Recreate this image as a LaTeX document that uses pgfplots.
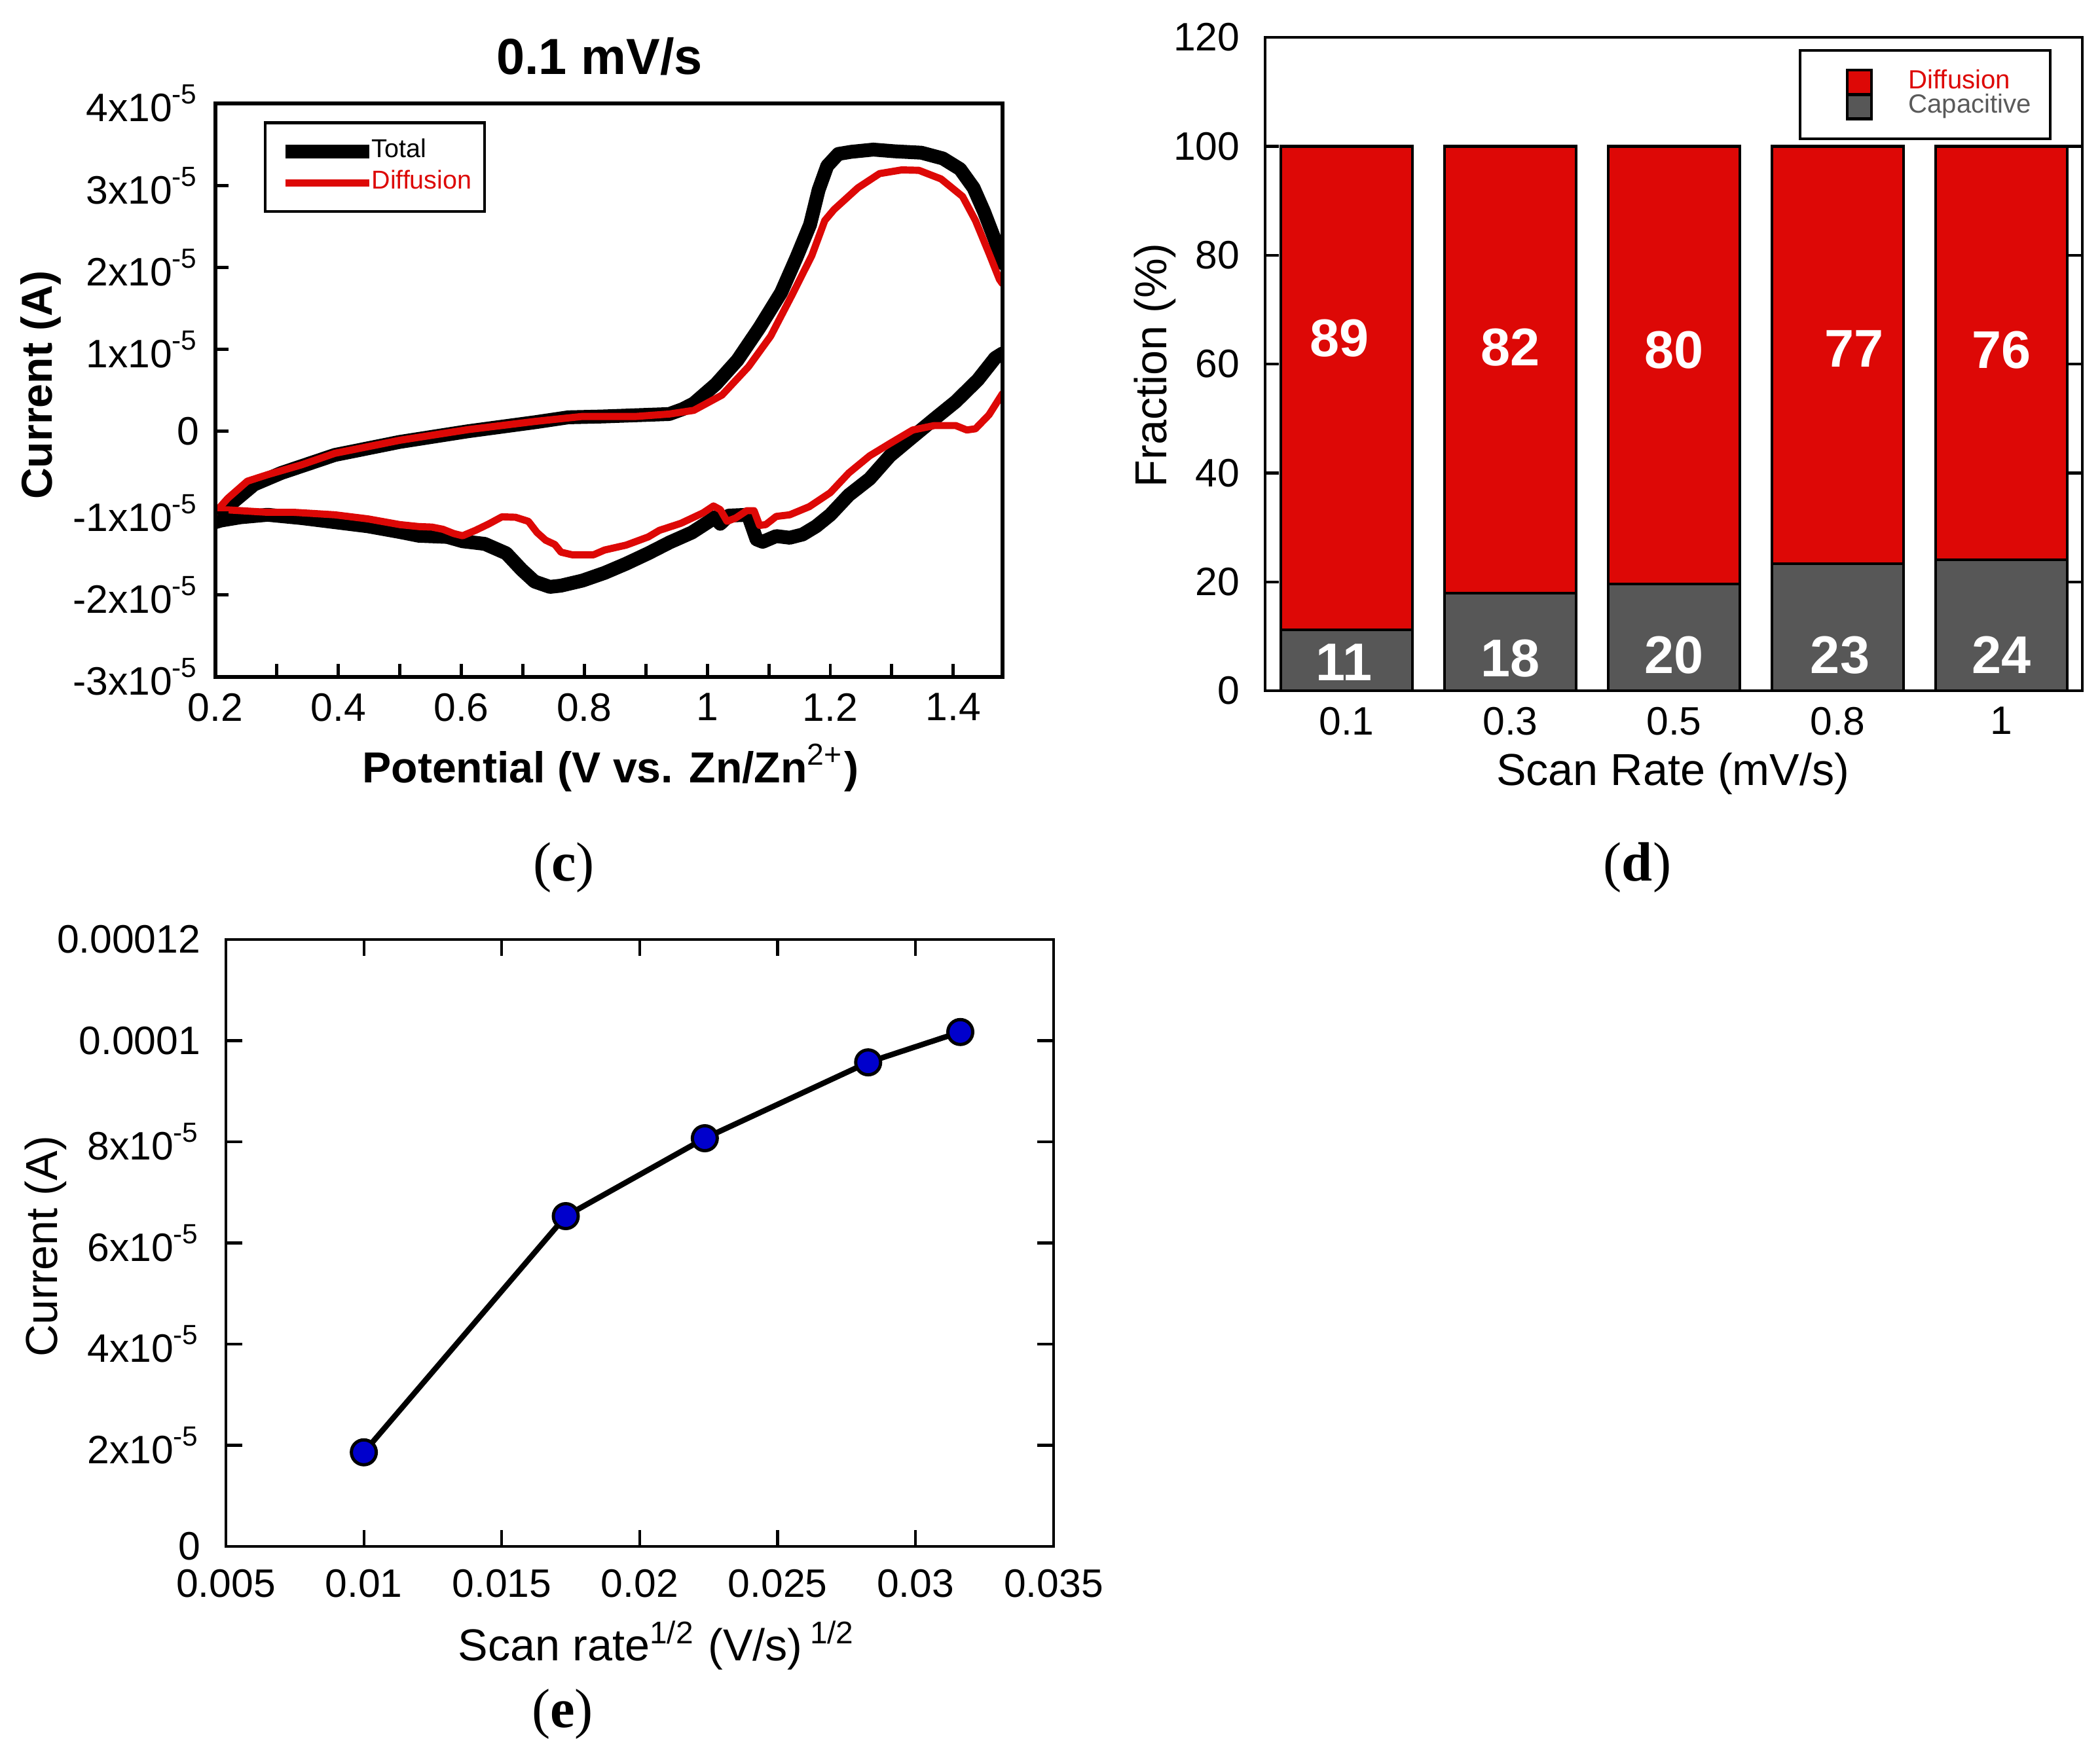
\documentclass[border=0pt]{standalone}
\usepackage{fontspec}
\setmainfont{Liberation Sans}
\newfontfamily\panelfont{Liberation Serif}
\usepackage{pgfplots}
\pgfplotsset{compat=1.18}
\definecolor{cvred}{HTML}{DD0806}
\definecolor{bargray}{HTML}{575757}
\definecolor{txtgray}{HTML}{5A5A5A}
\definecolor{dotblue}{HTML}{0000CC}
\newcommand{\tickfont}{\fontsize{8.6}{10}\selectfont}
\newcommand{\labfont}{\fontsize{9.7}{11}\selectfont}
\tikzset{barlab/.style={font=\bfseries\fontsize{11.5}{13}\selectfont, text=white}}
\pgfplotsset{
  swatch legend/.style={legend image code/.code={\path[draw=none,fill=none] (0cm,-0.01cm) rectangle (0.215cm,0.01cm); \draw[##1] (0.215cm,-0.0925cm) rectangle (0.4cm,0.0925cm);}},
  cvline legend/.style={legend image code/.code={\draw[##1,line cap=butt] (0cm,0cm) -- (0.64cm,0cm);}},
}
\begin{document}
\begin{tikzpicture}
\useasboundingbox (0,0) rectangle (16,13.346);

% ---------------- (c) ----------------
\begin{axis}[
  at={(1.641cm,8.187cm)}, anchor=south west, scale only axis,
  width=5.997cm, height=4.370cm,
  xmin=0.2, xmax=1.48, ymin=-3, ymax=4,
  axis on top,
  axis line style={line width=0.85pt},
  tick align=inside, xtick pos=left, ytick pos=left,
  xtick={0.2,0.4,0.6,0.8,1.0,1.2,1.4},
  xticklabels={0.2,0.4,0.6,0.8,1,1.2,1.4},
  minor xtick={0.3,0.5,0.7,0.9,1.1,1.3},
  ytick={-3,-2,-1,0,1,2,3,4},
  yticklabels={-3x10\textsuperscript{-5},-2x10\textsuperscript{-5},-1x10\textsuperscript{-5},0,1x10\textsuperscript{-5},2x10\textsuperscript{-5},3x10\textsuperscript{-5},4x10\textsuperscript{-5}},
  major tick length=0.1cm, minor tick length=0.1cm,
  tick style={line width=0.7pt, black},
  ticklabel style={font=\tickfont},
  yticklabel style={xshift=0cm},
  scaled x ticks=false, scaled y ticks=false,
  xlabel={Potential (V vs. Zn/Zn\textsuperscript{\mdseries 2+})},
  xlabel style={font=\bfseries\fontsize{9.4}{11}\selectfont, at={(axis description cs:0.502,-0.158)}, anchor=center},
  ylabel={Current (A)},
  ylabel style={font=\bfseries\fontsize{9.4}{11}\selectfont, at={(axis description cs:-0.222,0.509)}, anchor=center},
  title={0.1 mV/s},
  title style={font=\bfseries\fontsize{11}{13}\selectfont, at={(axis description cs:0.488,1.082)}, anchor=center, yshift=-6pt},
  legend cell align=left,
  legend style={at={(0.0616,0.969)}, anchor=north west, draw=black, line width=0.6pt,
    font=\fontsize{5.6}{6.5}\selectfont, inner xsep=0.1cm, inner ysep=0.12cm,
    row sep=0.044cm, nodes={inner sep=0pt},
    /tikz/every odd column/.append style={column sep=-0.035cm}},
]
% Total, anodic branch
\addplot[black, line width=3pt, line join=round, line cap=round, cvline legend] coordinates {
(0.200,-1.10) (0.220,-0.92) (0.263,-0.65) (0.307,-0.51) (0.394,-0.29) (0.500,-0.13)
(0.611,0.00) (0.720,0.11) (0.774,0.17) (0.829,0.18) (0.938,0.21) (0.960,0.27)
(0.978,0.34) (1.014,0.575) (1.049,0.868) (1.085,1.267) (1.120,1.693) (1.145,2.12)
(1.167,2.52) (1.181,2.946) (1.195,3.239) (1.213,3.385) (1.234,3.411) (1.270,3.438)
(1.305,3.417) (1.348,3.40) (1.383,3.33) (1.411,3.20) (1.433,2.97) (1.450,2.68)
(1.468,2.33) (1.480,2.05)};
\addlegendentry{Total}
% Total, cathodic branch
\addplot[black, line width=3pt, line join=round, line cap=round, forget plot] coordinates {
(1.480,0.95) (1.468,0.894) (1.440,0.628) (1.404,0.362) (1.369,0.149) (1.326,-0.118)
(1.297,-0.30) (1.264,-0.58) (1.230,-0.78) (1.200,-1.02) (1.177,-1.16) (1.155,-1.26)
(1.134,-1.30) (1.112,-1.28) (1.090,-1.35) (1.080,-1.32) (1.066,-1.02) (1.035,-1.03)
(1.021,-1.13) (1.012,-1.05) (1.003,-1.10) (0.975,-1.236) (0.939,-1.356) (0.904,-1.49)
(0.868,-1.617) (0.833,-1.729) (0.797,-1.823) (0.762,-1.885) (0.744,-1.90) (0.719,-1.835)
(0.698,-1.69) (0.673,-1.49) (0.638,-1.375) (0.602,-1.343) (0.577,-1.29) (0.531,-1.276)
(0.500,-1.23) (0.448,-1.16) (0.394,-1.11) (0.340,-1.06) (0.285,-1.02) (0.241,-1.05)
(0.209,-1.09) (0.200,-1.11)};
% Diffusion, anodic branch
\addplot[cvred, line width=1.55pt, line join=round, line cap=round, cvline legend] coordinates {
(0.200,-0.99) (0.220,-0.82) (0.252,-0.61) (0.285,-0.53) (0.340,-0.41) (0.394,-0.27)
(0.500,-0.11) (0.611,0.02) (0.720,0.12) (0.796,0.18) (0.883,0.18) (0.938,0.21)
(0.978,0.255) (1.024,0.442) (1.067,0.788) (1.103,1.161) (1.138,1.667) (1.170,2.146)
(1.191,2.572) (1.206,2.706) (1.245,2.972) (1.280,3.145) (1.316,3.19) (1.344,3.185)
(1.380,3.08) (1.415,2.866) (1.436,2.572) (1.458,2.173) (1.475,1.853) (1.480,1.80)};
\addlegendentry{\textcolor{cvred}{Diffusion}}
% Diffusion, cathodic branch
\addplot[cvred, line width=1.55pt, line join=round, line cap=round, forget plot] coordinates {
(1.480,0.46) (1.458,0.20) (1.436,0.03) (1.422,0.015) (1.404,0.069) (1.369,0.069)
(1.334,0.015) (1.298,-0.145) (1.264,-0.30) (1.230,-0.51) (1.200,-0.75) (1.166,-0.92)
(1.134,-1.02) (1.112,-1.04) (1.095,-1.14) (1.085,-1.15) (1.076,-0.97) (1.064,-0.97)
(1.046,-1.06) (1.032,-1.10) (1.021,-0.957) (1.010,-0.912) (0.993,-0.997) (0.957,-1.124)
(0.922,-1.21) (0.904,-1.29) (0.868,-1.39) (0.833,-1.45) (0.815,-1.508) (0.780,-1.508)
(0.762,-1.476) (0.752,-1.383) (0.737,-1.33) (0.723,-1.236) (0.709,-1.10) (0.688,-1.05)
(0.666,-1.045) (0.645,-1.13) (0.623,-1.21) (0.602,-1.276) (0.588,-1.25) (0.570,-1.197)
(0.552,-1.17) (0.531,-1.164) (0.500,-1.14) (0.448,-1.07) (0.394,-1.02) (0.328,-0.99)
(0.285,-0.99) (0.220,-0.96) (0.200,-0.96)};
\end{axis}

% ---------------- (d) ----------------
\begin{axis}[
  at={(9.639cm,8.082cm)}, anchor=south west, scale only axis,
  width=6.226cm, height=4.979cm,
  ybar stacked, bar width=0.804,
  xmin=-0.498, xmax=4.494, ymin=0, ymax=120,
  axis on top,
  axis line style={line width=0.6pt},
  tick align=inside, ytick pos=both, xtick pos=left,
  xtick={0,1,2,3,4}, xticklabels={0.1,0.3,0.5,0.8,1},
  ytick={0,20,40,60,80,100,120}, yticklabels={0,20,40,60,80,100,120},
  xtick style={draw=none},
  ytick style={line width=0.6pt, black},
  major tick length=0.105cm,
  ticklabel style={font=\tickfont},
  yticklabel style={xshift=-0.07cm},
  scaled x ticks=false, scaled y ticks=false,
  xlabel={Scan Rate (mV/s)},
  xlabel style={font=\labfont, at={(axis description cs:0.499,-0.127)}, anchor=center},
  ylabel={Fraction (\%)},
  ylabel style={font=\labfont, at={(axis description cs:-0.135,0.498)}, anchor=center},
  legend cell align=left, reverse legend,
  legend style={at={(0.653,0.982)}, anchor=north west, draw=black, line width=0.6pt,
    font=\fontsize{5.7}{6.5}\selectfont, inner xsep=0.145cm, inner ysep=0.14cm,
    row sep=-0.021cm, nodes={inner sep=0pt},
    /tikz/every odd column/.append style={column sep=0.27cm}},
]
\addplot[fill=bargray, draw=black, line width=0.6pt, swatch legend] coordinates {(0,11.2) (1,17.9) (2,19.6) (3,23.3) (4,24.1)};
\addlegendentry{\textcolor{txtgray}{Capacitive}}
\addplot[fill=cvred, draw=black, line width=0.6pt, swatch legend] coordinates {(0,88.8) (1,82.1) (2,80.4) (3,76.7) (4,75.9)};
\addlegendentry{\textcolor{cvred}{Diffusion}}
\coordinate (dA) at (axis cs:-0.044,64.7);
\coordinate (dB) at (axis cs:1,63.1);
\coordinate (dC) at (axis cs:2,62.6);
\coordinate (dD) at (axis cs:3.1,62.8);
\coordinate (dE) at (axis cs:4,62.6);
\coordinate (cA) at (axis cs:-0.016,5.2);
\coordinate (cB) at (axis cs:1,5.9);
\coordinate (cC) at (axis cs:2,6.6);
\coordinate (cD) at (axis cs:3.014,6.6);
\coordinate (cE) at (axis cs:4,6.6);
\end{axis}
\node[barlab] at (dA) {89};
\node[barlab] at (dB) {82};
\node[barlab] at (dC) {80};
\node[barlab] at (dD) {77};
\node[barlab] at (dE) {76};
\node[barlab] at (cA) {11};
\node[barlab] at (cB) {18};
\node[barlab] at (cC) {20};
\node[barlab] at (cD) {23};
\node[barlab] at (cE) {24};

% ---------------- (e) ----------------
\begin{axis}[
  at={(1.721cm,1.562cm)}, anchor=south west, scale only axis,
  width=6.306cm, height=4.625cm,
  xmin=0.005, xmax=0.035, ymin=0, ymax=12,
  axis line style={line width=0.6pt},
  tick align=inside, xtick pos=both, ytick pos=both,
  xtick={0.005,0.01,0.015,0.02,0.025,0.03,0.035},
  xticklabels={0.005,0.01,0.015,0.02,0.025,0.03,0.035},
  ytick={0,2,4,6,8,10,12},
  yticklabels={0,2x10\textsuperscript{-5},4x10\textsuperscript{-5},6x10\textsuperscript{-5},8x10\textsuperscript{-5},0.0001,0.00012},
  major tick length=0.125cm,
  tick style={line width=0.6pt, black},
  ticklabel style={font=\tickfont},
  yticklabel style={xshift=-0.07cm},
  xticklabel style={yshift=-0.05cm},
  scaled x ticks=false, scaled y ticks=false,
  xlabel={Scan rate\textsuperscript{1/2} (V/s)\,\textsuperscript{1/2}},
  xlabel style={font=\labfont, at={(axis description cs:0.521,-0.163)}, anchor=center},
  ylabel={Current (A)},
  ylabel style={font=\labfont, at={(axis description cs:-0.218,0.494)}, anchor=center},
]
\addplot[black, line width=1.2pt, mark=*, mark size=2.7pt,
  mark options={fill=dotblue, draw=black, line width=0.7pt}] coordinates {
(0.01000,1.86) (0.01732,6.53) (0.02236,8.07) (0.02828,9.57) (0.03162,10.17)};
\end{axis}

% panel labels
\node[font=\panelfont\fontsize{12}{14}\selectfont] at (4.296,6.735) {(\textbf{c})};
\node[font=\panelfont\fontsize{12}{14}\selectfont] at (12.475,6.735) {(\textbf{d})};
\node[font=\panelfont\fontsize{12}{14}\selectfont] at (4.286,0.284) {(\textbf{e})};
\end{tikzpicture}
\end{document}
